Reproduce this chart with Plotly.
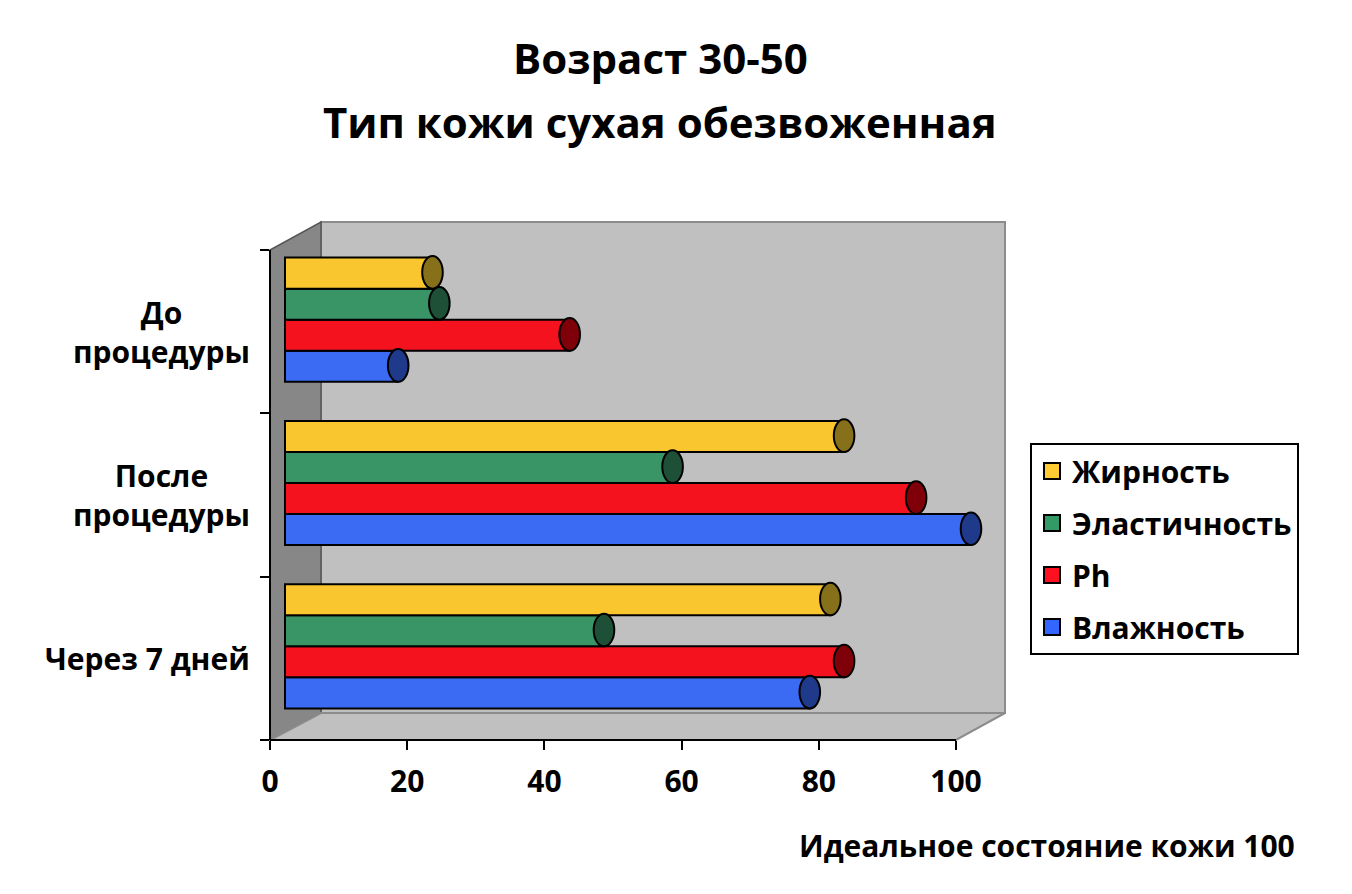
import plotly.graph_objects as go

# data
categories = ["Через 7 дней", "После процедуры", "До процедуры"]   # bottom -> top
cat_labels = ["Через 7 дней", "После<br>процедуры", "До<br>процедуры"]
series = ["Влажность", "Ph", "Эластичность", "Жирность"]          # bottom -> top inside a group
vlazhnost = [76.5, 100, 16.5]
ph = [81.5, 92, 41.5]
elastichnost = [46.5, 56.5, 22.5]
zhirnost = [79.5, 81.5, 21.5]
values = [vlazhnost, ph, elastichnost, zhirnost]

body_colors = ["#3A6BF2", "#F5121F", "#3A9566", "#F9C630"]
cap_colors = ["#1F3A8A", "#80000A", "#1E5038", "#86701A"]
legend_colors = ["#3366FF", "#FF1020", "#339966", "#FFCC33"]
xticks = [0, 20, 40, 60, 80, 100]

FONT = "Open Sans"
FS = 30

# page body has an 8px margin, so work in screen pixels and shift
OFF = 8
W, H = 1352 - OFF, 894 - OFF
# plot area in screen pixels (includes the back wall of the fake 3d box)
L, R, T, B = 270, 1005, 222, 740
UNIT_X = 6.86        # px per value unit
BAND = 163.33        # px per category
DEPTH_X, DEPTH_Y = 15, 12   # bars sit a bit "behind" the front edge


def pxx(x):
    return (x - L) / (R - L)


def pxy(y):
    return (B - y) / (B - T)


bar_w = 0.19
fig = go.Figure()

for k, name in enumerate(series):
    pos = [i + (k - 1.5) * bar_w for i in range(len(categories))]
    fig.add_trace(go.Bar(
        x=values[k], y=pos, orientation="h", width=bar_w, base=0,
        marker=dict(color=body_colors[k], line=dict(color="black", width=2)),
        showlegend=False, hoverinfo="x", xaxis="x", yaxis="y"))
    # round end caps of the "cylinders"
    for v, p in zip(values[k], pos):
        fig.add_shape(type="circle", xref="x", yref="y",
                      x0=v - 1.5, x1=v + 1.5, y0=p - bar_w / 2, y1=p + bar_w / 2 + 0.01,
                      fillcolor=cap_colors[k], line=dict(color="black", width=2),
                      layer="above")

# legend entries, top item first (Жирность)
for k in reversed(range(len(series))):
    fig.add_trace(go.Scatter(
        x=[None], y=[None], mode="markers", name=series[k], legendgroup=series[k],
        marker=dict(symbol="square", size=19, color=legend_colors[k],
                    line=dict(color="black", width=2)),
        xaxis="x", yaxis="y"))

# fake 3d box: back wall, left wall, floor
wall_x = pxx(L + 51)
floor_y = pxy(B - 27)
fig.add_shape(type="rect", xref="paper", yref="paper", x0=wall_x, x1=1, y0=floor_y, y1=1,
              fillcolor="#C0C0C0", line=dict(color="#8C8C8C", width=2), layer="below")
fig.add_shape(type="path", xref="paper", yref="paper",
              path=f"M 0 0 L {wall_x} {floor_y} L {wall_x} 1 L 0 {pxy(250)} Z",
              fillcolor="#878787", line=dict(color="#555555", width=1.5), layer="below")
fig.add_shape(type="path", xref="paper", yref="paper",
              path=f"M 0 0 L {wall_x} {floor_y} L 1 {floor_y} L {pxx(956)} 0 Z",
              fillcolor="#C0C0C0", line=dict(color="#8C8C8C", width=2), layer="below")

# axis lines of the front plane
fig.add_shape(type="line", xref="x2", yref="paper", x0=0, x1=100, y0=0, y1=0,
              line=dict(color="black", width=2))
fig.add_shape(type="line", xref="paper", yref="y2", x0=0, x1=0, y0=-0.5, y1=2.5,
              line=dict(color="black", width=2))

x0 = -DEPTH_X / UNIT_X
y0 = -(BAND / 2 + DEPTH_Y) / BAND
fig.update_layout(
    width=W, height=H,
    margin=dict(l=L - OFF, r=W - (R - OFF), t=T - OFF, b=H - (B - OFF)),
    paper_bgcolor="white", plot_bgcolor="rgba(0,0,0,0)",
    barmode="overlay",
    font=dict(family=FONT, color="black", size=FS, weight="bold"),
    xaxis=dict(range=[x0, x0 + (R - L) / UNIT_X], visible=False, fixedrange=True),
    yaxis=dict(range=[y0, y0 + (B - T) / BAND], visible=False, fixedrange=True),
    xaxis2=dict(overlaying="x", anchor="y", side="bottom",
                range=[0, (R - L) / UNIT_X], tickvals=xticks,
                ticks="outside", ticklen=9, tickwidth=2, tickcolor="black",
                ticklabelstandoff=6,
                tickfont=dict(family=FONT, size=FS, weight="bold"),
                showgrid=False, zeroline=False, showline=False),
    yaxis2=dict(overlaying="y", anchor="x", side="left",
                range=[-0.5, -0.5 + (B - T) / BAND],
                tickvals=[-0.5, 0.5, 1.5, 2.5], ticktext=["", "", "", ""],
                ticks="outside", ticklen=9, tickwidth=2, tickcolor="black",
                showgrid=False, zeroline=False, showline=False),
    legend=dict(x=pxx(1030), y=pxy(443), xanchor="left", yanchor="top",
                bgcolor="white", bordercolor="black", borderwidth=2,
                traceorder="grouped", tracegroupgap=10,
                font=dict(family=FONT, size=FS, weight="bold")),
    showlegend=True,
)

# xaxis2 needs a trace to show ticks
fig.add_trace(go.Scatter(x=[0, 100], y=[0, 0], mode="markers", marker=dict(opacity=0),
                         showlegend=False, hoverinfo="skip", xaxis="x2", yaxis="y2"))

# title lines
for txt, yy in [("Возраст 30-50", 57), ("Тип кожи сухая обезвоженная", 122)]:
    fig.add_annotation(text=txt, xref="paper", yref="paper", x=pxx(660), y=pxy(yy),
                       xanchor="center", yanchor="middle", showarrow=False,
                       font=dict(family=FONT, size=42, weight="bold"))

# category labels
for i, lab in enumerate(cat_labels):
    fig.add_annotation(text=lab, xref="paper", yref="y2", x=pxx(252), y=i,
                       xanchor="right", yanchor="middle", align="center", showarrow=False,
                       font=dict(family=FONT, size=FS, weight="bold"))

# x axis title
fig.add_annotation(text="Идеальное состояние кожи 100", xref="paper", yref="paper",
                   x=pxx(1297), y=pxy(845), xanchor="right", yanchor="middle",
                   showarrow=False, font=dict(family=FONT, size=FS, weight="bold"))

fig.write_html("out.html")
